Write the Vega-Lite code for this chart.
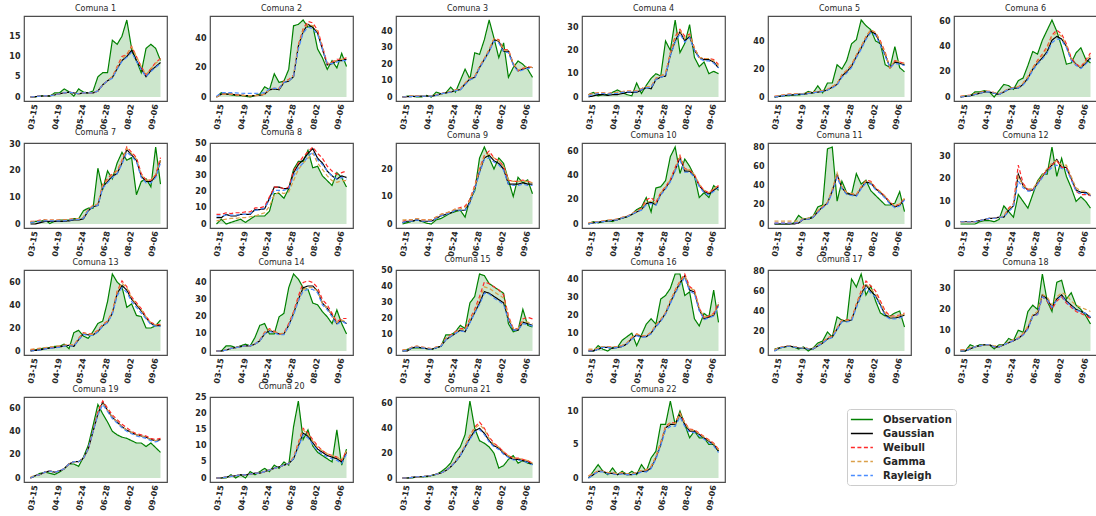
{
"$schema": "https://vega.github.io/schema/vega-lite/v6.json",
"autosize": {"type": "pad"},
"padding": {"left": 8, "top": 4, "right": 0, "bottom": 0},
"background": "white",
"config": {
  "font": "DejaVu Sans",
  "view": {"stroke": "#4d4d4d", "strokeWidth": 1.2},
  "axis": {"grid": false, "ticks": false, "domain": false, "title": null, "labelFont": "DejaVu Sans", "labelFontWeight": "bold", "labelFontSize": 8, "labelColor": "#262626"}
},
"data": {"values": [
{"c":"Comuna 1","t":[0,1,2,3,4,5,6,7,8,9,10,11,12,13,14,15,16,17,18,19,20,21,22,23,24,25,26,27],
"Observation":[0,0,0.3,0.3,0.2,1,1,2,1.3,0.2,2,1.2,1,1.5,5,6,6,14,13,15,19,12,9,6,12,13,12,9],
"Gaussian":[0,0.1,0.2,0.3,0.3,0.5,0.8,1,1.2,1,0.8,1,1,1,1.5,3,4,4.8,7,9,10,11.5,9,7,5,6.5,7.5,8.5],
"Weibull":[0,0.1,0.2,0.3,0.3,0.5,0.8,1,1.2,1,0.8,1,1,1,1.5,3,4,5,7.5,10,10.5,12.5,10,7.5,5.5,7,8.5,9.5],
"Gamma":[0,0.1,0.2,0.3,0.3,0.5,0.8,1,1.2,1,0.8,1,1,1,1.5,3,4,5,7.3,9.5,10.5,12.3,10,7.5,5.5,7,8.3,9.3],
"Rayleigh":[0,0.1,0.2,0.3,0.3,0.5,0.8,1,1.2,1,0.8,1,1,1,1.5,3,4,4.6,6.8,8.8,9.8,11,8.8,6.8,5,6.3,7.3,8.3]},
{"c":"Comuna 2","t":[0,1,2,3,4,5,6,7,8,9,10,11,12,13,14,15,16,17,18,19,20,21,22,23,24,25,26,27],
"Observation":[0,3,2,1.5,1,1,0.5,0,1,2,7,5,16,10,11,19,49,50,53,48,49,33,27,19,25,20,30,21],
"Gaussian":[0,2,2,2,1.5,1.2,1,1,1,1.2,2,5,5.5,5,10,11,14,35,45,50,48,44,33,22,23,25,25,26],
"Weibull":[0,2,2,2,1.5,1.2,1,1,1,1.2,2,5.5,6,6,11,12,15,36,47,52,51,46,35,23,24,26,26,27],
"Gamma":[0,2,2,2,1.5,1.2,1,1,1,1.2,2,5,6,5.5,10.5,11.5,14.5,35,46,50,49,45,34,22,24,25,26,26],
"Rayleigh":[0.5,3,3,3,2.8,2.6,2.5,2.5,2.5,2.6,3,5.5,6,6,10,11,14,33,44,48,47,43,33,23,23,24,25,25]},
{"c":"Comuna 3","t":[0,1,2,3,4,5,6,7,8,9,10,11,12,13,14,15,16,17,18,19,20,21,22,23,24,25,26,27],
"Observation":[0,0.5,0.5,0,0,1,0,3,2,2.5,6,3,10,17,11,27,26,35,47,36,24,33,12,18,22,20,17,12],
"Gaussian":[0,0.2,0.3,0.4,0.5,0.5,0.5,1,2,2.5,3,4,4.5,8,11,12,18,23,28,35,34,28,28,20,16,17,18,18],
"Weibull":[0,0.3,0.5,0.7,0.8,0.8,0.8,1.2,2,2.6,3.2,4.2,5,8.5,11.5,12.5,18.5,23.5,29,35.5,35,29,29,20.5,16,17.5,18.5,18],
"Gamma":[0,0.3,0.5,0.7,0.8,0.8,0.8,1.2,2,2.6,3.2,4.2,5,8.5,11.5,12.5,18.5,23.5,29,35.5,34.5,28.5,28.5,20.5,16.5,17.5,18.5,18],
"Rayleigh":[0,0.2,0.3,0.4,0.5,0.5,0.5,1,2,2.4,3,3.8,4.3,7.5,10.5,11.5,17.5,22.5,27.5,34,33,27.5,27,19.5,15.5,16.5,17.5,17.5]},
{"c":"Comuna 4","t":[0,1,2,3,4,5,6,7,8,9,10,11,12,13,14,15,16,17,18,19,20,21,22,23,24,25,26,27],
"Observation":[1,2,0.5,1,1,2,3,2,1,0.5,6,1.5,5,8,10,9,24,20,33,19,23,31,17,13,15,10,11,10],
"Gaussian":[0,0.5,1,1,0.7,1,1,1.5,2,2,2,3,4,3.5,7.5,8.5,9,18,24,28,24,26,20,17,16,16,15,12.5],
"Weibull":[1,1.5,1.8,1.8,1.5,1.8,2,2.3,2.5,2.5,2.5,3.5,4.5,4.5,8,9,10,19,26,29,26,27,21,17,16.5,16.5,16,14],
"Gamma":[1,1.5,1.8,1.8,1.5,1.8,2,2.3,2.5,2.5,2.5,3.5,4.5,4.5,8,9,10,18.5,25,28.5,25,26.5,21,17,16.5,16.5,15.5,13.5],
"Rayleigh":[0.5,1,1.5,1.5,1.2,1.5,1.5,2,2.2,2.2,2.2,3.2,4,4,7.5,8.5,9,17.5,23.5,27,23.5,25.5,20,16.5,15.5,15.5,14.5,12.5]},
{"c":"Comuna 5","t":[0,1,2,3,4,5,6,7,8,9,10,11,12,13,14,15,16,17,18,19,20,21,22,23,24,25,26,27],
"Observation":[0,0.5,1,1,1.5,1.5,2,4,3,8,3,10,10,23,20,26,38,41,55,51,48,40,38,23,21,36,21,18],
"Gaussian":[0,0.5,1,1.5,1.5,2,2,2.5,3,3.5,4,5,7,9,15,18,22,29,35,42,47,45,38,30,21,25,24,23],
"Weibull":[0.5,1,1.5,2,2,2.5,2.5,3,3.5,4,4.5,5.5,7.5,9.5,16,19,23,30,36,43,48,46,40,32,20,26,25,24],
"Gamma":[0.5,1,1.5,2,2,2.5,2.5,3,3.5,4,4.5,5.5,7.5,9.5,16,19,23,30,36,43,48,46,39,31,21,26,25,24],
"Rayleigh":[0,0.5,1,1.5,1.5,2,2,2.5,3,3.5,4,5,6.5,8.5,14,17,21,28,34,41,46,44,37,29,21,24,23.5,22.5]},
{"c":"Comuna 6","t":[0,1,2,3,4,5,6,7,8,9,10,11,12,13,14,15,16,17,18,19,20,21,22,23,24,25,26,27],
"Observation":[0,1,1,4,4,5,4,0,5,10,9,6,13,15,25,36,34,45,53,61,52,40,26,27,35,39,30,27],
"Gaussian":[0,0.5,1,2,3,4,4,3,2,4,6,7,7,10,15,22,27,31,36,45,48,46,40,30,26,23,27,31],
"Weibull":[0.5,1,1.5,2.5,3.5,4.5,4.5,3.5,2.5,4.5,6.5,7.5,8,11,16,23,29,34,40,49,53,50,42,31,26,24,29,35],
"Gamma":[0.5,1,1.5,2.5,3.5,4.5,4.5,3.5,2.5,4.5,6.5,7.5,8,11,16,23,28,33,39,48,51,48,41,30,25,24,28,33],
"Rayleigh":[0,0.5,1,2,3,4,4,3,2,4,6,7,7,9.5,14,21,26,30,35,43,46,45,39,29,25,22.5,26,30]},
{"c":"Comuna 7","t":[0,1,2,3,4,5,6,7,8,9,10,11,12,13,14,15,16,17,18,19,20,21,22,23,24,25,26,27],
"Observation":[0.5,1,1,1.5,0.2,1,1.5,1.5,1.5,2,2,5,6,6,21,13,20,17,23,27,24,25,11,16,17,14,29,15],
"Gaussian":[0,0,0.5,1,1,1,1,1,1.2,1.5,1.5,2,5,6.5,7,14,16,18,19,23,28,26,24,18,16,16,18,24],
"Weibull":[1,1,1.5,1.5,1.5,1.5,1.5,1.5,1.7,2,2,2.5,5.5,7,7.5,15,17,19,20,24,29,27,25,19,16.5,16.5,18.5,25],
"Gamma":[0.8,1,1.2,1.5,1.5,1.5,1.5,1.5,1.7,2,2,2.5,5.5,7,7.5,14.5,16.5,18.5,20,23.5,28.5,26.5,24.5,18.5,16.5,16.5,18.5,24],
"Rayleigh":[0.5,0.8,1,1.2,1.2,1.2,1.2,1.2,1.4,1.7,1.7,2.2,5,6.5,7,13.5,15.5,17.5,19,22.5,27,25.5,23.5,17.5,15.5,15.5,17.5,23]},
{"c":"Comuna 8","t":[0,1,2,3,4,5,6,7,8,9,10,11,12,13,14,15,16,17,18,19,20,21,22,23,24,25,26,27],
"Observation":[0,3,0,1,2,3,1,3,5,5,5,8,19,19,16,22,34,39,39,46,35,36,30,27,24,32,29,23],
"Gaussian":[4,4,6,5,5,6,6,6,9,9,9.5,16,23,23,22,22,32,37,40,44,47,41,38,33,30,28,30,29],
"Weibull":[6,6,7,6.5,7,7,7.5,7.5,10,10,11,17,23,23,22,23,33,38,42,45,48,44,41,36,33,31,32,33],
"Gamma":[2,2.5,3,3.5,3.5,4,4,4.5,5,6,7,11,18,20,19,20,27,34,38,41,44,38,34,30,27,26,27,27],
"Rayleigh":[5,5,5.5,5.5,5.5,6,6,6.5,8.5,9,10,15,21,21,21,22,30,35,38,42,45,40,37,33,30,28,29,28]},
{"c":"Comuna 9","t":[0,1,2,3,4,5,6,7,8,9,10,11,12,13,14,15,16,17,18,19,20,21,22,23,24,25,26,27],
"Observation":[0,0.5,1,1.5,1,0.3,0,1.5,2,3,4,4.5,5,2.5,9,12,24,28,24,20,24,22,16,10,17,15,16,11],
"Gaussian":[0.5,1,1,1.5,1,1,1,2,3,3.5,4,5,5,5,8,13,19,24,25,23,22,20,14.5,14.5,14.5,15,14.5,14.5],
"Weibull":[1,1.5,1.5,2,1.5,1.5,1.5,2.5,3.5,4,4.5,5.5,6,6.5,9,14,20,25,26.5,24,23,21,16,15.5,15.5,16,15.5,15],
"Gamma":[1.5,1.5,1.5,2,1.5,1.5,1.5,2.5,3.5,4,4.5,5.5,5.5,6,8.5,13.5,19.5,24.5,25.5,24,23,21,16,15.5,15.5,15.5,15.5,15],
"Rayleigh":[0.5,1,1,1.5,1,1,1,2,3,3.5,4,5,5,5,7.5,12.5,18.5,23.5,24,22.5,21.5,19.5,14.5,14,14,14.5,14,14]},
{"c":"Comuna 10","t":[0,1,2,3,4,5,6,7,8,9,10,11,12,13,14,15,16,17,18,19,20,21,22,23,24,25,26,27],
"Observation":[0,2,1,2,3,2,4,5,6,8,12,14,22,10,30,31,36,56,64,42,54,48,40,22,26,22,32,28],
"Gaussian":[0,1,1.5,2,2.5,3,3.5,5,6,8,10,12,17,18,16,25,30,36,45,55,44,44,40,32,27,25,28,31],
"Weibull":[1,1.5,2,2.5,3,3.5,4,5.5,6.5,8.5,11,13,20,22,18,26,31,37,47,57,46,45,41,33,28,26,29,32],
"Gamma":[1,1.5,2,2.5,3,3.5,4,5.5,6.5,8.5,10.5,12.5,18,19,17,25.5,30.5,37,46,56,45,45,41,33,28,26,29,32],
"Rayleigh":[0,1,1.5,2,2.5,3,3.5,5,6,8,10,11.5,16,17,15.5,24,29,35,44,53,43,43,39,31,26,24,27,30]},
{"c":"Comuna 11","t":[0,1,2,3,4,5,6,7,8,9,10,11,12,13,14,15,16,17,18,19,20,21,22,23,24,25,26,27],
"Observation":[0,0,0,0,1,9,5,6,8,18,20,79,81,24,45,33,31,53,42,46,35,30,25,20,20,22,34,13],
"Gaussian":[0,0,0,0,0,1,5,5,7,13,18,22,35,52,38,32,31,30,38,44,43,37,33,28,22,18,20,26],
"Weibull":[1,1,1,1,1,1.5,5,5.5,7.5,13,18,22,34,50,39,33,32,31,39,46,45,38,34,29,23,19,21,27],
"Gamma":[3,3,3,3,3,3,6,6,8,14,19,23,37,54,39,33,32,31,39,45,44,38,34,29,23,19,21,27],
"Rayleigh":[1,1,1,1,1,1.5,5,5,7,12,17,21,33,49,37,31,30,29,37,43,42,36,32,27,21,17,19,25]},
{"c":"Comuna 12","t":[0,1,2,3,4,5,6,7,8,9,10,11,12,13,14,15,16,17,18,19,20,21,22,23,24,25,26,27],
"Observation":[0,0,0,0,1,1.5,1.5,1,2,8,5.5,3,13,10,7,13,19,22,22,34,21,29,21,16,10,12,10,7],
"Gaussian":[1,1,1,1,1.5,2,2.5,2.5,3,3,6,8,22,17,15,15,18,21,24,26,28.5,25,25,20,15,14,14,12.5],
"Weibull":[1,1,1,1,1.5,2,2.5,2.5,3,3.5,7,9,26,18,15,15,18,21,24,26,28,25,25,20,14.5,13,13,12.5],
"Gamma":[1,1,1,1,1.5,2,2.5,2.5,3,3.5,6.5,8.5,21,17,15.5,15.5,18.5,21.5,24.5,27,28,26,26,21,16,14.5,14.5,13],
"Rayleigh":[1,1,1,1,1.5,2,2.5,2.5,3,3,5.5,7.5,19,16,14.5,14.5,17.5,20.5,23,25,26,24.5,24,19.5,14.5,13.5,13.5,12.5]},
{"c":"Comuna 13","t":[0,1,2,3,4,5,6,7,8,9,10,11,12,13,14,15,16,17,18,19,20,21,22,23,24,25,26,27],
"Observation":[0.5,1,2,2.5,3,4,4,6,2,16,18,13,11,17,24,26,43,67,60,56,38,41,31,30,20,20,22,27],
"Gaussian":[0,0.5,1,2,2.5,3,3.5,4.5,5,4,10,15,14,14,17,22,25,33,50,57,53,45,40,35,29,24,22,22],
"Weibull":[1,1.5,2,2.5,3,3.5,4,5,5.5,5,11,16,15,15,18,23,26,34,52,61,56,47,42,37,30,25,23,23],
"Gamma":[1.5,2,2.5,3,3.5,4,4.5,5,5.5,5,10.5,15.5,14.5,14.5,17.5,22.5,25.5,33.5,51,59,55,46,41,36,29.5,24.5,22.5,23],
"Rayleigh":[0,0.5,1,1.8,2.3,2.8,3.3,4.3,4.8,4,9.5,14.5,13.5,13.5,16.5,21.5,24.5,32,48,55,51,43,38,33,28,23,21.5,21.5]},
{"c":"Comuna 14","t":[0,1,2,3,4,5,6,7,8,9,10,11,12,13,14,15,16,17,18,19,20,21,22,23,24,25,26,27],
"Observation":[0,0,3,3,2,3,4,3,8,15,16,10,10,20,22,37,45,42,37,36,28,27,23,20,16,24,16,10],
"Gaussian":[0,0,0.5,1.5,2,2.5,3,3,4,6,10,12,11,10,10,15,22,30,37,38,38,35,28,25,21,16,18,16],
"Weibull":[0,0,0.5,1.5,2,2.5,3,3,4,6.5,11,13,11.5,10,10.5,16,23,32,40,41,40,37,30,27,22,17,19,19],
"Gamma":[0,0,0.5,1.5,2,2.5,3,3,4,6,10.5,12.5,11,10,10,15,22,30,36,37,37,35,28,25,21,16.5,18,17],
"Rayleigh":[0,0,0.5,1.5,2,2.5,3,3,4,6,10,11.5,10.5,9.5,9.5,14.5,21,29,35,36,36,34,27,24,20,15.5,17.5,16]},
{"c":"Comuna 15","t":[0,1,2,3,4,5,6,7,8,9,10,11,12,13,14,15,16,17,18,19,20,21,22,23,24,25,26,27],
"Observation":[0,1,2,2,2,1.5,1,2,3,10,10,12,16,14,30,34,48,47,42,40,38,36,17,12,13,26,16,15],
"Gaussian":[0,0,2,2.5,2,1.5,1,2,3,7,9,11,13,12,18,24,30,37,36,34,32,30,20,13,13,18,17,16],
"Weibull":[0.5,1,2.5,3,2.5,2,1.5,2.5,3.5,8,10,12,14,14,20,26,34,43,42,40,38,35,22,14,14,20,21,20],
"Gamma":[0.5,1,2.5,3,2.5,2,1.5,2.5,3.5,7.5,9.5,11.5,13.5,13,19,25,32,40,39,37,35,33,21,14,14,18.5,18,17],
"Rayleigh":[0,0.5,2,2.5,2,1.5,1,2,3,7,9,11,12.5,12,17.5,23.5,29,36,35.5,33,31,29,19,13,13,17,16.5,15.5]},
{"c":"Comuna 16","t":[0,1,2,3,4,5,6,7,8,9,10,11,12,13,14,15,16,17,18,19,20,21,22,23,24,25,26,27],
"Observation":[0,0,3,1,0,2,2,6,8,10,3,9,15,18,15,29,31,35,43,43,31,33,18,14,21,19,34,16],
"Gaussian":[0,0,1,2,2,1.5,2,2.5,4,7,9,8,8,10,14,17,21,27,33,38,42,34,33,23,18,19,20,26],
"Weibull":[0.5,0.5,1.5,2.5,2.5,2,2.5,3,4.5,7.5,9.5,8.5,8.5,10.5,14.5,17.5,21.5,28,34,39,43,36,34,24,18.5,19.5,21,27],
"Gamma":[1,1,1.5,2.5,2.5,2,2.5,3,4.5,7.5,9.5,8.5,8.5,10.5,14.5,17.5,21.5,28,33.5,38.5,42,35,34,24,19,19.5,20.5,26],
"Rayleigh":[0,0,1,2,2,1.5,2,2.5,4,6.5,8.5,7.5,8,9.5,13.5,16.5,20.5,26.5,32,37,41,33.5,32,22.5,17.5,18.5,19.5,25]},
{"c":"Comuna 17","t":[0,1,2,3,4,5,6,7,8,9,10,11,12,13,14,15,16,17,18,19,20,21,22,23,24,25,26,27],
"Observation":[2,3,4,5,4,2,4,0,3,8,10,19,14,34,31,30,72,64,77,56,65,50,38,35,35,38,40,24],
"Gaussian":[0,3,4,5,4,3,3,2,2,5,8,12,14,22,30,30,31,45,57,66,60,55,46,36,33,33,34,36],
"Weibull":[1,3.5,4.5,5.5,4.5,3.5,3.5,2.5,2.5,5.5,9,13,15,23,31,31,32,47,60,70,65,60,50,40,35,35,36,38],
"Gamma":[1,3.5,4.5,5.5,4.5,3.5,3.5,2.5,2.5,5.5,8.5,12.5,14.5,22.5,30.5,30.5,31.5,46,58,67,62,57,48,38,34,34,35,37],
"Rayleigh":[0,3,4,5,4,3,3,2,2,5,8,11.5,13.5,21,29,29,30,43,55,63,58,54,45,35,32,32,33,35]},
{"c":"Comuna 18","t":[0,1,2,3,4,5,6,7,8,9,10,11,12,13,14,15,16,17,18,19,20,21,22,23,24,25,26,27],
"Observation":[0,0,3,2,3,3,3,1,3,3,6,5,10,9,19,22,20,37,24,19,33,34,25,28,22,20,17,13],
"Gaussian":[0,0,1,2,2.5,3,3,2,2,3,4,5,6,8,11,17,18,27,25,21,25,27,24,22,20,19,18,16],
"Weibull":[0.5,0.5,1.5,2,2.5,3,3,2,2,3,4,5,6,8,11,17,17.5,26,24,20,24,26,23,21,19,18,17,15.5],
"Gamma":[0.5,0.5,1.5,2,2.5,3,3,2.5,2.5,3,4.5,5.5,6.5,8.5,12,17.5,19,27,26,22,26,28,27,24,22,21,20,19],
"Rayleigh":[0,0,1,2,2.5,3,3,2,2,3,4,5,6,7.5,10.5,16.5,17.5,26,24.5,21,24.5,26.5,23.5,21.5,19.5,19,18,16.5]},
{"c":"Comuna 19","t":[0,1,2,3,4,5,6,7,8,9,10,11,12,13,14,15,16,17,18,19,20,21,22,23,24,25,26,27],
"Observation":[0,2,4,5,4,3,5,8,12,12,10,18,28,45,63,55,48,40,37,35,34,32,30,30,27,30,26,22],
"Gaussian":[0,2,3,5,6,5,6,8,12,14,14,17,25,40,55,65,58,52,48,44,41,39,37,36,35,33,32,33],
"Weibull":[0,2,3,5,6,5,6,8,12,14,14,17,25,41,57,66,60,54,50,46,43,40,38,37,36,34,33,34],
"Gamma":[1,2,3,5,6,5,6,8,12,14,14,17,25,40,55,64,58,52,48,44,41,39,37,36,35,33,32,33],
"Rayleigh":[0,2,3,5,6,5,6,8,12,14,14,17,25,40,54,63,57,51,47,43,40,38,36,35,34,32,31,32]},
{"c":"Comuna 20","t":[0,1,2,3,4,5,6,7,8,9,10,11,12,13,14,15,16,17,18,19,20,21,22,23,24,25,26,27],
"Observation":[0,0,0,1,0,1,0,2,1,2,3,2,4,3,5,4,16,24,12,15,10,8,7,6,5,15,4,9],
"Gaussian":[0,0,0.3,0.5,0.7,1,1,1.2,1.5,1.5,2,2.5,3,3.5,4,4.5,6,10,14,13,11,9,8,7,6.5,6,5,8],
"Weibull":[0,0,0.3,0.5,0.7,1,1,1.2,1.5,1.5,2,2.5,3,3.5,4,4.5,6.5,11,15.5,14,12,10,8.5,7.5,7,6.5,5.5,8.5],
"Gamma":[0,0,0.3,0.5,0.7,1,1,1.2,1.5,1.5,2,2.5,3,3.5,4,4.5,6.5,10.5,15,13.5,11.5,9.5,8.5,7.5,7,6.5,5.5,8.5],
"Rayleigh":[0,0,0.3,0.5,0.7,1,1,1.2,1.5,1.5,2,2.5,3,3.5,4,4.5,6,9.5,13.5,12.5,10.5,8.5,7.5,6.5,6,5.5,4.5,7.5]},
{"c":"Comuna 21","t":[0,1,2,3,4,5,6,7,8,9,10,11,12,13,14,15,16,17,18,19,20,21,22,23,24,25,26,27],
"Observation":[0,0,0,1,1,1,2,3,5,8,12,20,25,35,62,40,30,28,25,20,8,10,15,18,12,14,12,11],
"Gaussian":[0,0,0.5,1,1,1.5,2,3,4,6,9,13,18,25,32,38,40,36,30,26,24,20,17,15,15,14,13,11],
"Weibull":[0,0,0.5,1,1,1.5,2,3,4,6,9,13.5,19,26,34,41,45,40,33,28,25,21,18,16,16,15,14,12],
"Gamma":[0,0,0.5,1,1,1.5,2,3,4,6,9,13.5,19,26,34,40,43,39,32,27,25,21,18,16,16,15,14,12],
"Rayleigh":[0,0,0.5,1,1,1.5,2,3,4,6,9,13,18,25,31,37,39,35,29,25,23,19,16.5,14.5,14.5,13.5,12.5,10.5]},
{"c":"Comuna 22","t":[0,1,2,3,4,5,6,7,8,9,10,11,12,13,14,15,16,17,18,19,20,21,22,23,24,25,26,27],
"Observation":[0,1,2,1,0.5,1.5,0.5,1,0.5,1,0.5,2,1,3,4,8,8,11.5,8,10,8,6,7,6,6,5,5,4],
"Gaussian":[0,0.5,1,1,0.7,0.7,0.5,0.7,0.5,0.5,0.7,1,1,1.5,3,5,7.5,8,8,9.5,8,7,7,6.5,6,5.5,5,4],
"Weibull":[0.3,0.7,1,1,0.8,0.8,0.6,0.8,0.6,0.6,0.8,1.1,1.2,1.7,3.2,5.3,7.7,8.3,8.2,9.7,8.3,7.3,7.2,6.7,6.2,5.7,5.2,4.3],
"Gamma":[0.3,0.7,1,1,0.8,0.8,0.6,0.8,0.6,0.6,0.8,1.1,1.2,1.7,3.2,5.2,7.5,8.2,8.1,9.6,8.2,7.2,7.1,6.6,6.1,5.6,5.1,4.2],
"Rayleigh":[0,0.5,0.9,0.9,0.6,0.6,0.5,0.6,0.5,0.5,0.6,0.9,0.9,1.4,2.8,4.8,7.2,7.7,7.7,9.1,7.7,6.8,6.8,6.3,5.8,5.3,4.8,3.8]}
]},
"transform": [{"flatten": ["t", "Observation", "Gaussian", "Weibull", "Gamma", "Rayleigh"]}],
"facet": {"field": "c", "type": "nominal",
  "sort": ["Comuna 1","Comuna 2","Comuna 3","Comuna 4","Comuna 5","Comuna 6","Comuna 7","Comuna 8","Comuna 9","Comuna 10","Comuna 11","Comuna 12","Comuna 13","Comuna 14","Comuna 15","Comuna 16","Comuna 17","Comuna 18","Comuna 19","Comuna 20","Comuna 21","Comuna 22"],
  "header": {"title": null, "labelFont": "DejaVu Sans", "labelFontSize": 8, "labelColor": "#262626", "labelPadding": 3}},
"columns": 6,
"spacing": {"row": 42, "column": 43},
"bounds": "flush",
"resolve": {"scale": {"y": "independent"}, "axis": {"x": "independent"}},
"spec": {
  "width": 143,
  "height": 85,
  "encoding": {
    "x": {"field": "t", "type": "quantitative",
      "scale": {"domain": [-1.35, 28.35], "nice": false, "zero": false},
      "axis": {"values": [1, 6, 11, 16, 21, 26], "labelExpr": "['03-15','04-19','05-24','06-28','08-02','09-06'][(datum.value-1)/5]", "labelAngle": -80, "labelPadding": 3, "labelFontSize": 8, "labelOverlap": false, "labelFlush": false}}
  },
  "layer": [
    {"mark": {"type": "area", "color": "#cce6cc", "opacity": 1},
     "encoding": {"y": {"field": "Observation", "type": "quantitative", "scale": {"zero": true, "nice": false, "padding": 4}, "axis": {"tickCount": 4, "labelPadding": 4}}}},
    {"transform": [{"fold": ["Observation", "Gaussian", "Weibull", "Gamma", "Rayleigh"], "as": ["k", "v"]}],
     "mark": {"type": "line", "strokeWidth": 1.2},
     "encoding": {
       "y": {"field": "v", "type": "quantitative"},
       "color": {"field": "k", "type": "nominal",
         "scale": {"domain": ["Observation", "Gaussian", "Weibull", "Gamma", "Rayleigh"], "range": ["#008000", "#000000", "#ff2a2a", "#dba04a", "#4a8cff"]},
         "legend": {"orient": "none", "legendX": 823, "legendY": 393, "title": null, "labelFont": "DejaVu Sans", "labelFontWeight": "bold", "labelFontSize": 10, "labelColor": "#262626", "symbolType": "M-1.2,0H2.8", "symbolSize": 121, "symbolStrokeWidth": 1.5, "labelOffset": 19, "rowPadding": 2, "padding": 4, "strokeColor": "#cccccc", "fillColor": "white", "cornerRadius": 3}},
       "strokeDash": {"field": "k", "type": "nominal",
         "scale": {"domain": ["Observation", "Gaussian", "Weibull", "Gamma", "Rayleigh"], "range": [[1, 0], [1, 0], [4, 2.5], [4, 2.5], [4, 2.5]]},
         "legend": {"orient": "none", "legendX": 823, "legendY": 393, "title": null, "labelFont": "DejaVu Sans", "labelFontWeight": "bold", "labelFontSize": 10, "labelColor": "#262626", "symbolType": "M-1.2,0H2.8", "symbolSize": 121, "symbolStrokeWidth": 1.5, "labelOffset": 19, "rowPadding": 2, "padding": 4, "strokeColor": "#cccccc", "fillColor": "white", "cornerRadius": 3}}
     }}
  ]
}
}
